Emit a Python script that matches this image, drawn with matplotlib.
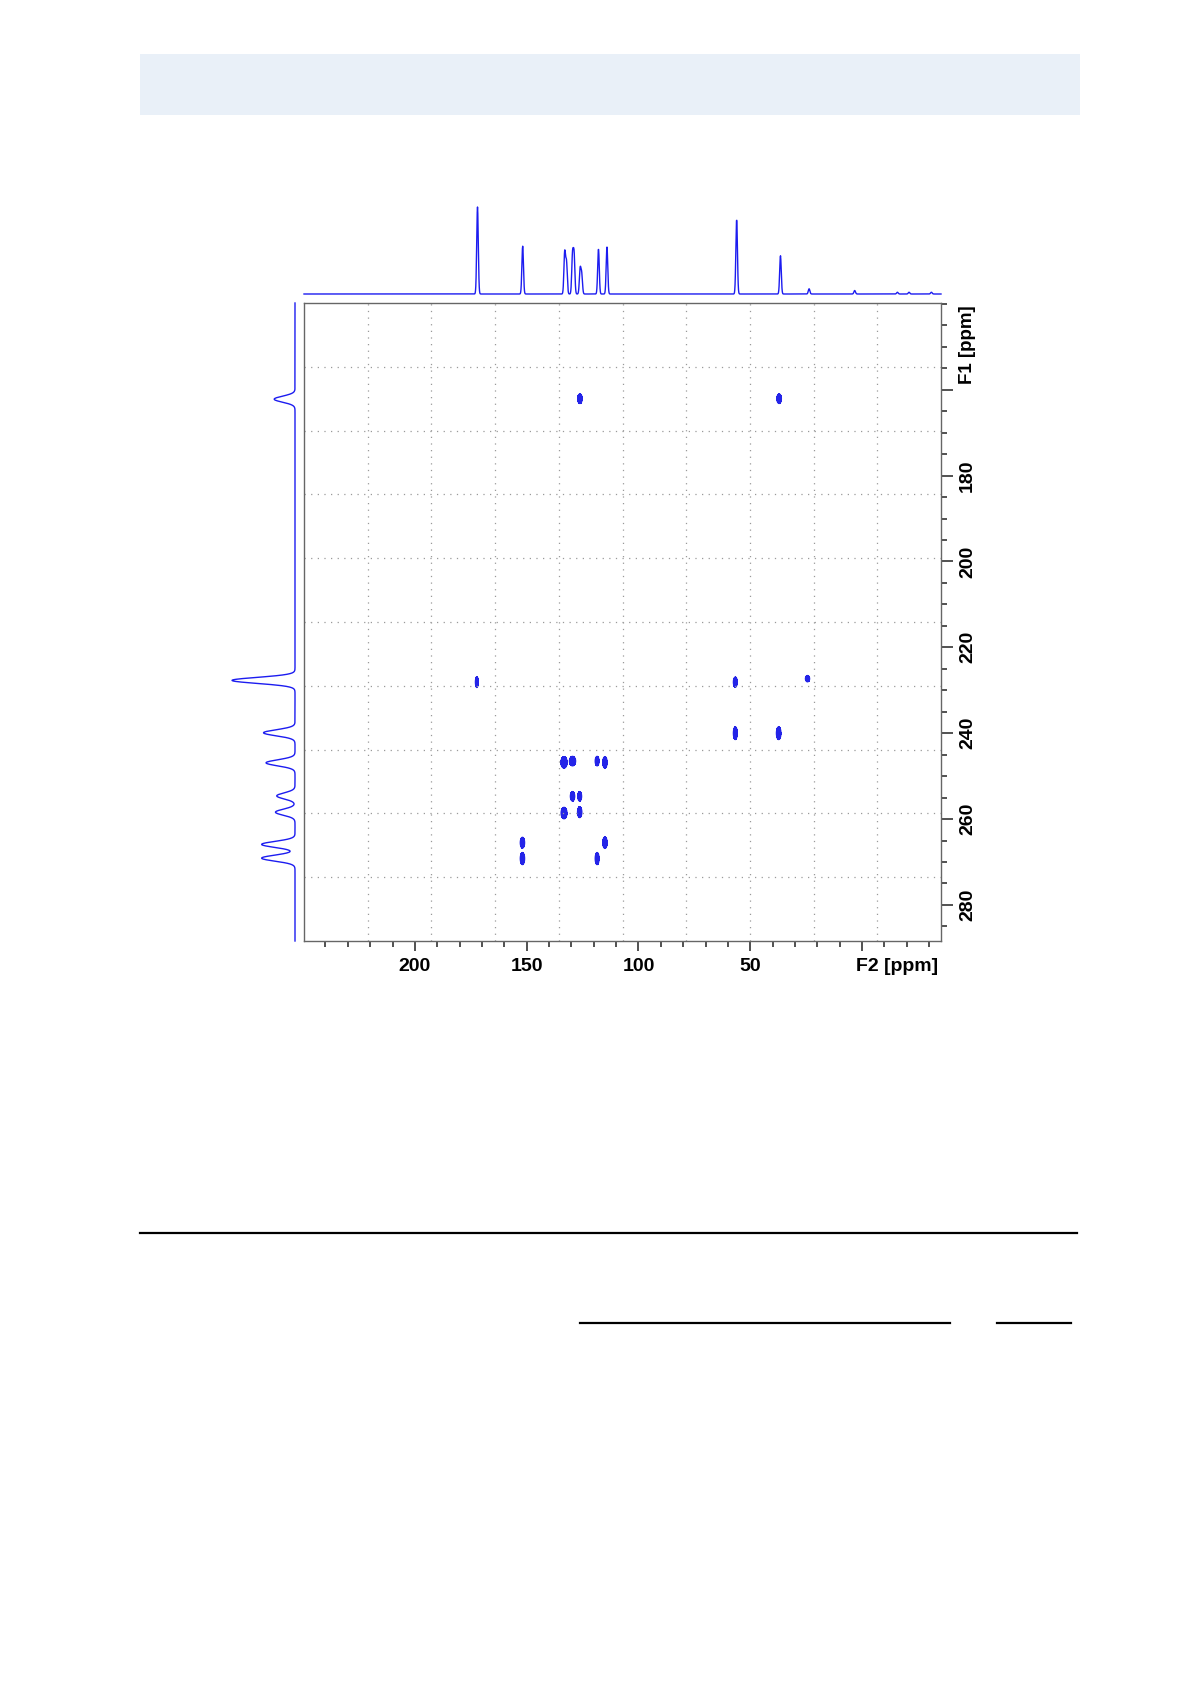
import numpy as np
import matplotlib
matplotlib.use('Agg')
import matplotlib.pyplot as plt
from matplotlib.patches import Rectangle
from matplotlib.lines import Line2D
from matplotlib.ticker import MultipleLocator

plt.rcParams['font.family'] = ['Liberation Sans', 'DejaVu Sans']

W, H = 1190, 1684  # page size in px

# F2 projection (top): peak position [ppm], relative height
f2_peaks = [172.0, 151.8, 133.0, 132.2, 129.5, 128.8, 126.1, 125.4, 117.9, 114.1,
            56.1, 36.5, 23.7, 3.3, -15.8, -21.0, -31.0]
f2_heights = [1.0, 0.55, 0.48, 0.36, 0.44, 0.44, 0.28, 0.22, 0.52, 0.54,
              0.86, 0.44, 0.06, 0.04, 0.02, 0.02, 0.02]

# F1 projection (left)
f1_peaks = [162.2, 227.7, 239.9, 246.9, 254.6, 258.4, 265.9, 269.1]
f1_heights = [0.33, 1.0, 0.50, 0.46, 0.29, 0.31, 0.53, 0.53]

# cross peaks: F2, F1 position and line widths (ppm)
cross_f2 = [172.3, 56.7, 24.4, 56.7, 37.3, 133.3, 129.5, 118.5, 115.0, 129.5,
            126.3, 133.3, 126.3, 151.9, 151.9, 115.0, 118.5, 126.2, 37.1]
cross_f1 = [228.1, 228.1, 227.3, 240.0, 240.0, 246.8, 246.5, 246.5, 246.8, 254.7,
            254.7, 258.6, 258.4, 265.5, 269.2, 265.5, 269.2, 162.1, 162.1]
cross_w2 = [0.45, 0.6, 0.65, 0.6, 0.7, 0.95, 0.95, 0.6, 0.67, 0.67,
            0.6, 0.9, 0.67, 0.67, 0.67, 0.67, 0.6, 0.7, 0.7]
cross_w1 = [0.85, 0.8, 0.5, 1.0, 1.0, 0.9, 0.75, 0.75, 0.9, 0.75,
            0.75, 0.9, 0.85, 0.85, 0.95, 0.9, 0.95, 0.75, 0.75]

f2_lim = (249.6, -35.3)
f1_lim = (288.4, 139.8)

blue = '#2424e8'
line_blue = '#1c1cf0'

fig = plt.figure(figsize=(W / 100, H / 100), dpi=100)


def px_axes(x0, y0, x1, y1):
    return fig.add_axes([x0 / W, 1 - y1 / H, (x1 - x0) / W, (y1 - y0) / H])


# header band and rules
fig.add_artist(Rectangle((140 / W, 1 - 115 / H), 940 / W, 61 / H, transform=fig.transFigure,
                         facecolor='#e9f0f8', edgecolor='none'))
fig.add_artist(Line2D([140 / W, 1077 / W], [1 - 1233 / H] * 2, lw=1.6, color='black'))
fig.add_artist(Line2D([580 / W, 950 / W], [1 - 1323 / H] * 2, lw=1.6, color='black'))
fig.add_artist(Line2D([997 / W, 1071 / W], [1 - 1323 / H] * 2, lw=1.6, color='black'))

# main 2D plot
ax = px_axes(304, 303, 941, 941)
x2 = np.linspace(f2_lim[0], f2_lim[1], 2200)
y1 = np.linspace(f1_lim[1], f1_lim[0], 1800)
X, Y = np.meshgrid(x2, y1)
Z = np.zeros_like(X)
for p2, p1, w2, w1 in zip(cross_f2, cross_f1, cross_w2, cross_w1):
    u = ((X - p2) ** 2) / (2 * w2 ** 2) + ((Y - p1) ** 2) / (2 * w1 ** 2)
    Z += np.exp(-u ** 1.6)
ax.contourf(X, Y, Z, levels=[0.3, 50], colors=[blue])
ax.contour(X, Y, Z, levels=[0.3], colors=[blue], linewidths=0.8)
ax.set_xlim(*f2_lim)
ax.set_ylim(*f1_lim)

# dotted grid, 10 divisions
for f in np.arange(1, 10) / 10:
    ax.plot([f, f], [0, 1], transform=ax.transAxes, ls=(0, (1, 4.3)), color='#9a9a9a', lw=0.9)
    ax.plot([0, 1], [f, f], transform=ax.transAxes, ls=(0, (1, 4.3)), color='#9a9a9a', lw=0.9)

for s in ax.spines.values():
    s.set_color('#666666')
    s.set_linewidth(1.0)

fs = 14
ax.set_xticks([200, 150, 100, 50, 0], labels=['200', '150', '100', '50', ''],
              fontweight='bold', fontsize=fs)
ax.xaxis.set_minor_locator(MultipleLocator(10))
ax.tick_params(axis='x', which='major', direction='out', length=7.5, width=1.1,
               color='#222222', pad=4.5)
ax.tick_params(axis='x', which='minor', direction='out', length=4.3, width=1.1,
               color='#222222')

ax.yaxis.tick_right()
ax.set_yticks([160, 180, 200, 220, 240, 260, 280],
              labels=['', '180', '200', '220', '240', '260', '280'],
              fontweight='bold', fontsize=fs, rotation=90, va='center')
ax.yaxis.set_minor_locator(MultipleLocator(5))
ax.tick_params(axis='y', which='major', direction='out', length=8.5, width=1.1,
               color='#222222', pad=4.5)
ax.tick_params(axis='y', which='minor', direction='out', length=4.5, width=1.1,
               color='#222222')

ax.annotate('F2 [ppm]', xy=(2.5, 0), xycoords=('data', 'axes fraction'),
            xytext=(0, -12), textcoords='offset points', ha='left', va='top',
            fontsize=fs, fontweight='bold')
ax.annotate('F1 [ppm]', xy=(1, 149.5), xycoords=('axes fraction', 'data'),
            xytext=(13, 0), textcoords='offset points', ha='left', va='center',
            rotation=90, fontsize=13.5, fontweight='bold')

# top projection
axt = px_axes(304, 207, 941, 294)
sp2 = np.zeros_like(x2)
for p, h in zip(f2_peaks, f2_heights):
    sp2 += h * np.exp(-((x2 - p) ** 2) / (2 * 0.35 ** 2))
axt.plot(x2, sp2, color=line_blue, lw=1.0, clip_on=False)
axt.set_xlim(*f2_lim)
axt.set_ylim(0, 1)
axt.axis('off')

# left projection
axl = px_axes(232, 303, 295, 941)
sp1 = np.zeros_like(y1)
for p, h in zip(f1_peaks, f1_heights):
    sp1 += h * np.exp(-((y1 - p) ** 2) / (2 * 0.7 ** 2))
axl.plot(sp1, y1, color=line_blue, lw=1.0, clip_on=False)
axl.set_xlim(1, 0)
axl.set_ylim(*f1_lim)
axl.axis('off')

fig.savefig('out.png', dpi=100, facecolor='white')
